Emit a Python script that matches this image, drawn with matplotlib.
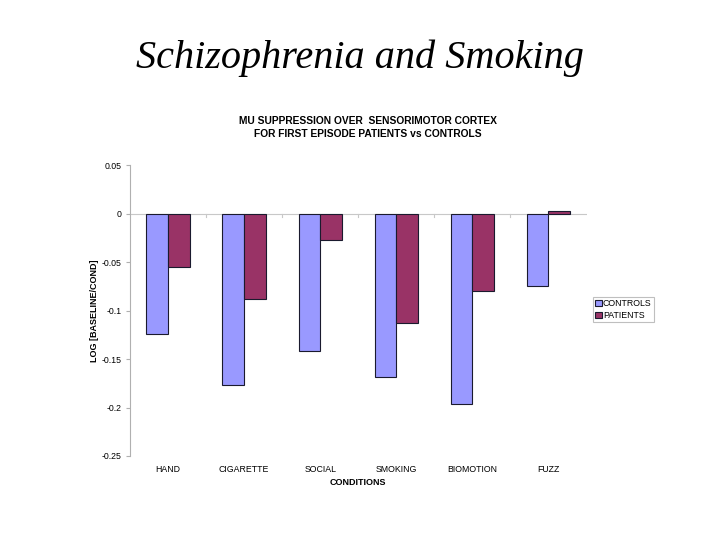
import matplotlib
matplotlib.use("Agg")
import matplotlib.pyplot as plt
import numpy as np

categories = ["HAND", "CIGARETTE", "SOCIAL", "SMOKING", "BIOMOTION", "FUZZ"]
controls = [-0.124, -0.177, -0.142, -0.168, -0.196, -0.075]
patients = [-0.055, -0.088, -0.027, -0.113, -0.080, 0.003]
yticks = [0.05, 0, -0.05, -0.1, -0.15, -0.2, -0.25]
ytick_labels = ["0.05", "0", "-0.05", "-0.1", "-0.15", "-0.2", "-0.25"]

fig = plt.figure(figsize=(7.2, 5.4), dpi=100)
fig.text(0.5, 0.893, "Schizophrenia and Smoking", ha="center", va="center",
         family="Liberation Serif", style="italic", fontsize=29)

ax = fig.add_axes([0.1806, 0.1556, 0.634, 0.5384])
x = np.arange(len(categories))
w = 0.285
ax.bar(x - w / 2, controls, w, color="#9999FF", edgecolor="#1a1a2e", linewidth=0.8, label="CONTROLS")
ax.bar(x + w / 2, patients, w, color="#993366", edgecolor="#1a1a2e", linewidth=0.8, label="PATIENTS")
ax.set_xlim(-0.5, len(categories) - 0.5)
ax.set_ylim(-0.25, 0.05)
ax.axhline(0, color="#c8c8c8", linewidth=0.8, zorder=0)
for b in np.arange(0.5, len(categories) - 0.5, 1.0):
    ax.plot([b, b], [0, -0.003], color="#c8c8c8", linewidth=0.8, zorder=0)

ax.set_yticks(yticks)
ax.set_yticklabels(ytick_labels, family="Liberation Sans", fontsize=6.3)
ax.set_xticks(x)
ax.set_xticklabels(categories, family="Liberation Sans", fontsize=6.3)
ax.tick_params(axis="x", length=0, pad=6.5)
ax.tick_params(axis="y", length=3, color="#b0b0b0", pad=3)
for s in ["top", "right", "bottom"]:
    ax.spines[s].set_visible(False)
ax.spines["left"].set_color("#b0b0b0")
ax.spines["left"].set_linewidth(0.8)

ax.set_xlabel("CONDITIONS", family="Liberation Sans", fontweight="bold", fontsize=6.5, labelpad=3)
ax.set_ylabel("LOG [BASELINE/COND]", family="Liberation Sans", fontweight="bold", fontsize=6.5, labelpad=2)

fig.text(0.511, 0.764, "MU SUPPRESSION OVER  SENSORIMOTOR CORTEX\nFOR FIRST EPISODE PATIENTS vs CONTROLS",
         ha="center", va="center", family="Liberation Sans", fontweight="bold", fontsize=7.4, linespacing=1.3)

leg = fig.legend(loc="center left", bbox_to_anchor=(0.824, 0.427), frameon=True, fancybox=False,
                 prop={"family": "Liberation Sans", "size": 6.3}, handlelength=0.7, handleheight=0.7,
                 handletextpad=0.15, borderpad=0.25, labelspacing=0.35, borderaxespad=0)
leg.get_frame().set_edgecolor("#b0b0b0")
leg.get_frame().set_linewidth(0.8)

fig.savefig("out.png", dpi=100)
